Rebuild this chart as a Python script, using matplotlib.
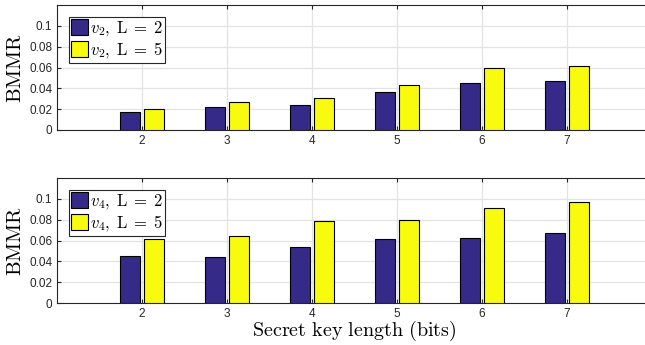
import matplotlib
matplotlib.use("Agg")
import matplotlib.pyplot as plt
import numpy as np

# Data
key_bits = [2, 3, 4, 5, 6, 7]
v2_L2 = [0.017, 0.0224, 0.0237, 0.0365, 0.0449, 0.0468]
v2_L5 = [0.020, 0.027, 0.031, 0.043, 0.0593, 0.0612]
v4_L2 = [0.0453, 0.0443, 0.0533, 0.0614, 0.0623, 0.0675]
v4_L5 = [0.0614, 0.0643, 0.0787, 0.080, 0.0909, 0.0973]
y_ticks = [0, 0.02, 0.04, 0.06, 0.08, 0.1]
y_tick_labels = ["0", "0.02", "0.04", "0.06", "0.08", "0.1"]

plt.rcParams["mathtext.fontset"] = "cm"
plt.rcParams["font.family"] = "Liberation Sans"

blue = "#352a87"
yellow = "#f9fb0e"

fig = plt.figure(figsize=(6.45, 3.45), dpi=100)
W, H = 645, 345
ax_top = fig.add_axes([57 / W, 1 - 130 / H, (652 - 57) / W, 125 / H])
ax_bot = fig.add_axes([57 / W, 1 - 303 / H, (652 - 57) / W, 125 / H])


def draw(ax, a, b, name):
    x = np.array(key_bits)
    ax.bar(x - 0.14, a, width=0.23, color=blue, edgecolor="black", linewidth=0.8,
           label=r"$%s,\;\mathrm{L}\;=\;2$" % name, zorder=3)
    ax.bar(x + 0.14, b, width=0.23, color=yellow, edgecolor="black", linewidth=0.8,
           label=r"$%s,\;\mathrm{L}\;=\;5$" % name, zorder=3)
    ax.set_xlim(1, 8)
    ax.set_ylim(0, 0.12)
    ax.set_xticks(key_bits)
    ax.set_yticks(y_ticks)
    ax.set_yticklabels(y_tick_labels)
    ax.grid(True, color="#e3e3e3", linewidth=0.9, zorder=0)
    ax.set_axisbelow(True)
    ax.tick_params(direction="in", labelsize=8.5, colors="#262626", length=3,
                   top=True, right=False)
    for s in ax.spines.values():
        s.set_color("#262626")
        s.set_linewidth(0.8)
    ax.set_ylabel(r"$\mathrm{BMMR}$", fontsize=15)
    ax.yaxis.set_label_coords(-0.054, 0.5)
    leg = ax.legend(loc="upper left", fontsize=12, frameon=True, fancybox=False,
                    handlelength=1.0, handleheight=1.1, handletextpad=0.1,
                    borderpad=0.15, labelspacing=0.1, borderaxespad=0.7)
    leg.get_frame().set_edgecolor("#262626")
    leg.get_frame().set_linewidth(0.8)
    leg.get_frame().set_alpha(1)


draw(ax_top, v2_L2, v2_L5, "v_2")
draw(ax_bot, v4_L2, v4_L5, "v_4")
ax_bot.set_xlabel(r"$\mathrm{Secret\ key\ length\ (bits)}$", fontsize=14.5, labelpad=-1)

fig.savefig("out.png", dpi=100)
